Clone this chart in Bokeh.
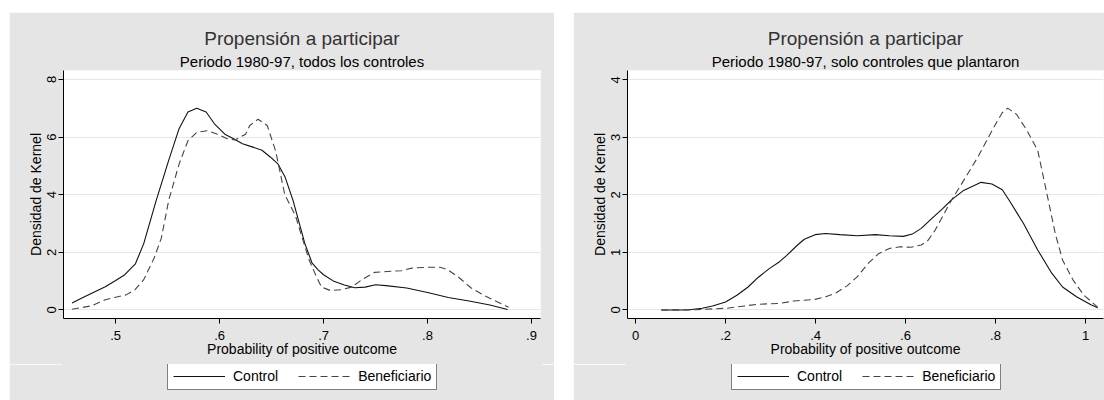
from bokeh.plotting import figure
from bokeh.models import Title, Legend, LegendItem, FixedTicker, Range1d
from bokeh.layouts import row, column
from bokeh.embed import file_html
from bokeh.resources import INLINE

FONT = "Liberation Sans"
BG = "#e5e5e5"
NAN = float("nan")

# ---------------- data: panel 1 (todos los controles) ----------------
p1_control_x = [0.458, 0.467, 0.477, 0.490, 0.500, 0.508, 0.519, 0.527, 0.539, 0.551,
                0.561, 0.5695, 0.578, 0.587, 0.595, 0.605, 0.6135, 0.622, 0.632, 0.6407,
                0.649, 0.656, 0.663, 0.6706, 0.682, 0.689, 0.695, 0.700, 0.710, 0.720,
                0.730, 0.740, 0.750, 0.760, 0.780, 0.800, 0.820, 0.840, 0.860, 0.877]
p1_control_y = [0.24, 0.40, 0.58, 0.80, 1.02, 1.20, 1.60, 2.30, 3.80, 5.19,
                6.29, 6.87, 7.00, 6.87, 6.46, 6.10, 5.94, 5.77, 5.65, 5.54,
                5.30, 5.07, 4.61, 3.80, 2.30, 1.62, 1.38, 1.22, 0.99, 0.86,
                0.77, 0.79, 0.87, 0.84, 0.76, 0.60, 0.43, 0.31, 0.17, 0.01]

p1_benef_x = [0.458, 0.4767, 0.490, 0.500, 0.510, 0.5186, 0.527, 0.537, 0.544, 0.551,
              0.561, 0.5695, 0.578, 0.588, 0.598, 0.608, 0.615, 0.625, 0.629, 0.637,
              0.6458, 0.654, 0.6627, 0.673, 0.680, 0.686, 0.693, 0.698, 0.7067, 0.717,
              0.727, 0.737, 0.749, 0.761, 0.775, 0.785, 0.800, 0.812, 0.819, 0.829,
              0.842, 0.856, 0.870, 0.878]
p1_benef_y = [0.02, 0.14, 0.35, 0.44, 0.52, 0.70, 1.05, 1.80, 2.50, 3.80,
              5.06, 5.87, 6.16, 6.22, 6.10, 5.93, 5.90, 6.10, 6.40, 6.62,
              6.40, 5.50, 4.00, 3.26, 2.44, 1.74, 1.16, 0.79, 0.67, 0.70,
              0.79, 1.05, 1.30, 1.33, 1.36, 1.45, 1.48, 1.48, 1.40, 1.16,
              0.76, 0.47, 0.23, 0.09]

# ---------------- data: panel 2 (solo controles que plantaron) ----------------
p2_control_x = [0.057, 0.116, 0.148, 0.171, 0.200, 0.226, 0.250, 0.273, 0.297, 0.320,
                0.336, 0.360, 0.375, 0.399, 0.4226, 0.454, 0.493, 0.533, 0.564, 0.595,
                0.615, 0.635, 0.658, 0.682, 0.7015, 0.729, 0.768, 0.792, 0.815, 0.831,
                0.8625, 0.894, 0.925, 0.949, 0.980, 1.012, 1.027]
p2_control_y = [0.0, 0.0, 0.03, 0.07, 0.14, 0.26, 0.40, 0.57, 0.72, 0.84,
                0.95, 1.13, 1.23, 1.31, 1.33, 1.31, 1.29, 1.31, 1.29, 1.28,
                1.32, 1.42, 1.59, 1.76, 1.91, 2.08, 2.22, 2.19, 2.09, 1.90,
                1.50, 1.04, 0.64, 0.40, 0.23, 0.09, 0.04]

p2_benef_x = [0.057, 0.132, 0.171, 0.203, 0.242, 0.273, 0.320, 0.352, 0.399, 0.4226,
              0.446, 0.470, 0.493, 0.517, 0.540, 0.564, 0.5876, 0.611, 0.635, 0.650,
              0.666, 0.682, 0.6976, 0.729, 0.760, 0.784, 0.800, 0.815, 0.827, 0.847,
              0.870, 0.894, 0.9175, 0.933, 0.949, 0.9725, 0.996, 1.027]
p2_benef_y = [0.0, 0.005, 0.02, 0.03, 0.07, 0.10, 0.115, 0.156, 0.185, 0.23,
              0.30, 0.42, 0.58, 0.81, 0.98, 1.07, 1.10, 1.09, 1.13, 1.21,
              1.39, 1.62, 1.85, 2.25, 2.65, 3.00, 3.23, 3.43, 3.51, 3.40,
              3.12, 2.77, 1.90, 1.32, 0.87, 0.52, 0.26, 0.05]

main_title = "Propensión a participar"
subtitles = ["Periodo 1980-97, todos los controles",
             "Periodo 1980-97, solo controles que plantaron"]
x_label = "Probability of positive outcome"
y_label = "Densidad de Kernel"
series_names = ["Control", "Beneficiario"]

p1_xticks = [0.5, 0.6, 0.7, 0.8, 0.9]
p1_xlabels = [".5", ".6", ".7", ".8", ".9"]
p1_yticks = [0, 2, 4, 6, 8]
p2_xticks = [0, 0.2, 0.4, 0.6, 0.8, 1]
p2_xlabels = ["0", ".2", ".4", ".6", ".8", "1"]
p2_yticks = [0, 1, 2, 3, 4]

CONTROL_STYLE = dict(line_color="#111111", line_width=1.1)
BENEF_STYLE = dict(line_color="#444444", line_width=1.1, line_dash="7 4")


def make_panel(subtitle, cx, cy, bx, by, xr, yr, xticks, xlabels, yticks,
               width, left_margin, border_right):
    p = figure(width=width, height=352, output_backend="svg", toolbar_location=None,
               x_range=Range1d(*xr), y_range=Range1d(*yr),
               min_border_left=54, min_border_right=border_right,
               min_border_top=58, min_border_bottom=46)
    p.margin = (12, 0, 0, left_margin)
    p.title.text = ""
    p.title.visible = False
    p.background_fill_color = "white"
    p.border_fill_color = BG
    p.outline_line_color = None

    p.add_layout(Title(text=subtitle, align="center", text_font=FONT,
                       text_font_size="15px", text_font_style="normal",
                       text_color="black", standoff=1), "above")
    p.add_layout(Title(text=main_title, align="center", text_font=FONT,
                       text_font_size="19px", text_font_style="normal",
                       text_color="#333333", standoff=4), "above")

    for ax in (p.xaxis[0], p.yaxis[0]):
        ax.axis_line_color = "black"
        ax.major_tick_line_color = "black"
        ax.major_tick_out = 5
        ax.major_tick_in = 0
        ax.minor_tick_line_color = None
        ax.major_label_text_font = FONT
        ax.major_label_text_font_size = "13px"
        ax.major_label_text_color = "black"
        ax.axis_label_text_font = FONT
        ax.axis_label_text_font_size = "14px"
        ax.axis_label_text_font_style = "normal"
        ax.axis_label_text_color = "black"

    p.xaxis.ticker = FixedTicker(ticks=xticks)
    p.xaxis.major_label_overrides = dict(zip(xticks, xlabels))
    p.xaxis.axis_label = x_label
    p.xaxis.major_label_standoff = 7
    p.xaxis.axis_label_standoff = -2

    p.yaxis.ticker = FixedTicker(ticks=yticks)
    p.yaxis.axis_label = y_label
    p.yaxis.major_label_orientation = "parallel"
    p.yaxis.major_label_standoff = 2
    p.yaxis.axis_label_standoff = 1

    p.xgrid.visible = False
    p.ygrid.grid_line_color = "#e6e6e6"
    p.ygrid.grid_line_width = 1

    p.line(cx, cy, **CONTROL_STYLE)
    p.line(bx, by, **BENEF_STYLE)

    # legend strip underneath (same grey panel); its frame aligns with the plot frame
    lg = figure(width=width, height=36, output_backend="svg", toolbar_location=None,
                x_range=Range1d(0, 1), y_range=Range1d(0, 1),
                x_axis_type=None, y_axis_type=None,
                min_border_left=0, min_border_right=0,
                min_border_top=0, min_border_bottom=0)
    lg.margin = (0, 0, 0, left_margin)
    lg.title.visible = False
    lg.background_fill_color = BG
    lg.border_fill_color = BG
    lg.outline_line_color = BG
    lg.outline_line_width = 3
    lg.xgrid.visible = False
    lg.ygrid.visible = False
    # legend proxies (NaN data: nothing plotted, only the legend samples)
    k1 = lg.line([NAN, NAN], [NAN, NAN], **CONTROL_STYLE)
    k2 = lg.line([NAN, NAN], [NAN, NAN], **BENEF_STYLE)
    legend = Legend(items=[LegendItem(label=series_names[0], renderers=[k1]),
                           LegendItem(label=series_names[1], renderers=[k2])],
                    orientation="horizontal", location=(104, 10))
    legend.border_line_color = "black"
    legend.border_line_width = 1
    legend.background_fill_color = "white"
    legend.background_fill_alpha = 1
    legend.label_text_font = FONT
    legend.label_text_font_size = "14px"
    legend.label_text_color = "black"
    legend.glyph_width = 52
    legend.glyph_height = 16
    legend.label_standoff = 8
    legend.spacing = 20
    legend.padding = 5
    legend.margin = 0
    lg.add_layout(legend, "center")
    return column(p, lg, spacing=0)


c1 = make_panel(subtitles[0], p1_control_x, p1_control_y, p1_benef_x, p1_benef_y,
                (0.4498, 0.9087), (-0.30, 8.31), p1_xticks, p1_xlabels, p1_yticks,
                545, 9, 14)
c2 = make_panel(subtitles[1], p2_control_x, p2_control_y, p2_benef_x, p2_benef_y,
                (-0.018, 1.04), (-0.148, 4.165), p2_xticks, p2_xlabels, p2_yticks,
                531, 19, 1)

layout = row(c1, c2)
open("out.html", "w").write(file_html(layout, INLINE))
